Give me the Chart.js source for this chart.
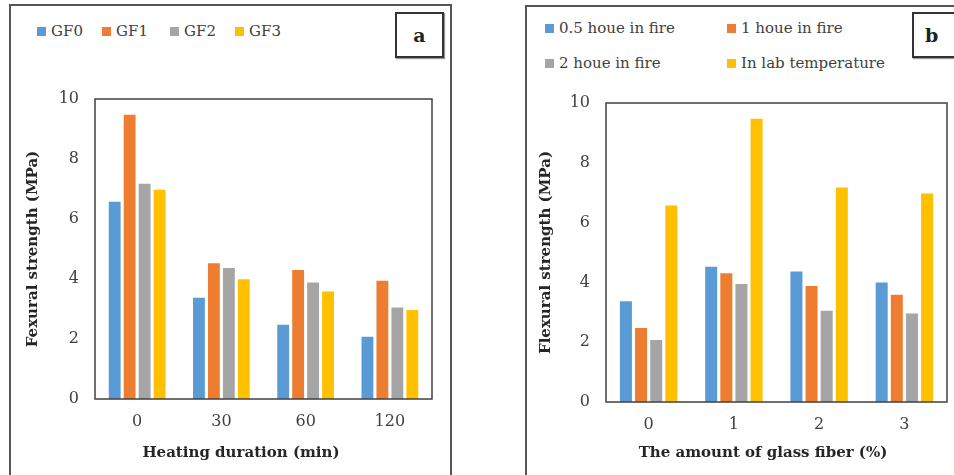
<!DOCTYPE html>
<html>
<head>
<meta charset="utf-8">
<script src="https://cdn.jsdelivr.net/npm/chart.js@4.4.1/dist/chart.umd.min.js"></script>
<style>
  body { margin: 0; width: 954px; height: 475px; overflow: hidden; background: #fff; position: relative; font-family: "DejaVu Serif", serif; }
  .panel { position: absolute; border: 2px solid #555; box-sizing: border-box; }
  canvas { position: absolute; }
  .tag { position: absolute; border: 2px solid #333; box-shadow: 1px 1px 1px #999; background: #fff;
         font: bold 19px "DejaVu Serif", serif; color: #222; text-align: center; box-sizing: border-box; }
  .leg { position: absolute; font: 15px "DejaVu Serif", serif; color: #404040; white-space: nowrap; }
  .leg i { display: inline-block; width: 9px; height: 9px; margin-right: 5px; vertical-align: 0px; }
  .xt { position: absolute; font: bold 15px "DejaVu Serif", serif; color: #262626; white-space: nowrap; transform: translate(-50%, -50%); }
</style>
</head>
<body>
<div class="panel" style="left:9px;top:4px;width:443px;height:490px"></div>
<div class="panel" style="left:525px;top:5px;width:450px;height:490px"></div>
<div class="tag" style="left:395px;top:12px;width:49px;height:46px;line-height:42px">a</div>
<div class="tag" style="left:912px;top:12px;width:60px;height:46px;line-height:42px;text-align:left;padding-left:11px">b</div>
<div id="legA"></div>
<div id="legB"></div>
<canvas id="chartA" width="442" height="476" style="left:9px;top:4px"></canvas>
<canvas id="chartB" width="440" height="475" style="left:525px;top:5px"></canvas>
<div class="xt" style="left:241px;top:452px">Heating duration (min)</div>
<div class="xt" style="left:763px;top:452px">The amount of glass fiber (%)</div>
<script>
// panel a: heating duration on x, one series per glass fibre content
const durations = ['0', '30', '60', '120'];
const gfNames = ['GF0', 'GF1', 'GF2', 'GF3'];
const gf0 = [6.6, 3.4, 2.5, 2.1];
const gf1 = [9.5, 4.55, 4.33, 3.97];
const gf2 = [7.2, 4.39, 3.91, 3.08];
const gf3 = [7.0, 4.02, 3.61, 2.99];
// panel b: same measurements grouped by glass fibre amount
const fiberAmounts = ['0', '1', '2', '3'];
const fireNames = ['0.5 houe in fire', '1 houe in fire', '2 houe in fire', 'In lab temperature'];
const yTicks = [0, 2, 4, 6, 8, 10];

const colors = ['#5B9BD5', '#ED7D31', '#A5A5A5', '#FFC000'];
const gfSeries = [gf0, gf1, gf2, gf3];

// duration index -> series of panel b (0.5h=30min, 1h=60min, 2h=120min, lab=0min)
const fireSeries = [1, 2, 3, 0].map(d => gfSeries.map(s => s[d]));

const tickFont = { family: 'DejaVu Serif', size: 16 };
const titleFont = { family: 'DejaVu Serif', size: 15, weight: 'bold' };

const plotBox = {
    id: 'plotBox',
    afterDatasetsDraw(chart) {
        const a = chart.chartArea;
        const ctx = chart.ctx;
        ctx.save();
        ctx.strokeStyle = '#404040';
        ctx.lineWidth = 1.5;
        ctx.strokeRect(a.left, a.top, a.right - a.left, a.bottom - a.top);
        ctx.restore();
    }
};

function makeChart(id, labels, names, series, yTitle, yw, xh, padRight, padTop, yTitlePad) {
    return new Chart(document.getElementById(id), {
        type: 'bar',
        data: {
            labels: labels,
            datasets: series.map((s, i) => ({
                label: names[i],
                data: s,
                backgroundColor: colors[i],
                borderColor: '#fff',
                borderWidth: 0.8,
                categoryPercentage: 0.71,
                barPercentage: 0.9
            }))
        },
        options: {
            responsive: false,
            animation: false,
            layout: { padding: { top: padTop, right: padRight, left: 0, bottom: 0 } },
            plugins: { legend: { display: false }, tooltip: { enabled: false } },
            scales: {
                x: {
                    grid: { display: false, drawTicks: false },
                    border: { display: false },
                    ticks: { font: tickFont, color: '#404040', padding: 13 },
                    afterFit(scale) { scale.height = xh; }
                },
                y: {
                    min: 0, max: 10,
                    afterBuildTicks(scale) { scale.ticks = yTicks.map(v => ({ value: v })); },
                    grid: { display: false, drawTicks: false },
                    border: { display: false },
                    ticks: { font: tickFont, color: '#404040', padding: 16 },
                    title: { display: true, text: yTitle, font: titleFont, color: '#262626', padding: { top: yTitlePad, bottom: 0 } },
                    afterFit(scale) { scale.width = yw; }
                }
            }
        },
        plugins: [plotBox]
    });
}

makeChart('chartA', durations, gfNames, gfSeries, 'Fexural strength (MPa)', 86, 81, 19, 95, 15);
makeChart('chartB', fiberAmounts, fireNames, fireSeries, 'Flexural strength (MPa)', 81, 78, 18, 98, 12);

// legends
function legend(elId, names, spots) {
    const el = document.getElementById(elId);
    names.forEach((n, i) => {
        const d = document.createElement('div');
        d.className = 'leg';
        d.style.left = spots[i][0] + 'px';
        d.style.top = spots[i][1] + 'px';
        d.innerHTML = '<i style="background:' + colors[i] + '"></i>' + n;
        el.appendChild(d);
    });
}
legend('legA', gfNames, [[37, 22], [102, 22], [170, 22], [235, 22]]);
legend('legB', fireNames, [[545, 19], [727, 19], [545, 54], [727, 54]]);
</script>
</body>
</html>
